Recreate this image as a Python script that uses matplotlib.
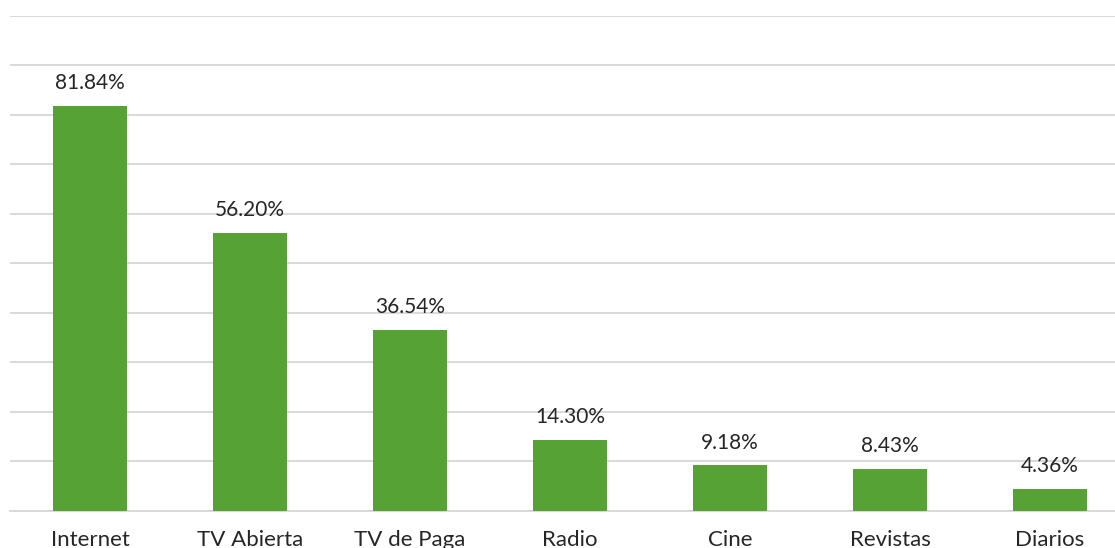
import numpy as np
import matplotlib
matplotlib.use('Agg')
import matplotlib.pyplot as plt

# Media usage shares (percent)
categories = ['Internet', 'TV Abierta', 'TV de Paga', 'Radio', 'Cine', 'Revistas', 'Diarios']
values = [81.84, 56.20, 36.54, 14.30, 9.18, 8.43, 4.36]
labels = ['81.84%', '56.20%', '36.54%', '14.30%', '9.18%', '8.43%', '4.36%']

plt.rcParams['font.family'] = ['Lato', 'DejaVu Sans']

W, H = 1115, 548
fig = plt.figure(figsize=(W/100., H/100.), dpi=100)
# axes run a bit past the right edge of the canvas
ax = fig.add_axes([10./W, (H-510.5)/H, 1120./W, 494.5/H])

x = np.arange(len(categories))
ax.bar(x, values, width=0.4625, color='#56A235', zorder=3)

for xi, v, lab in zip(x, values, labels):
    ax.annotate(lab, (xi, v), xytext=(0, 9), textcoords='offset points',
                ha='center', va='bottom', fontsize=15, color='#262626')

ax.set_xlim(-0.5, 6.5)
ax.set_ylim(0, 100)
ax.set_yticks(np.arange(0, 101, 10))
ax.yaxis.grid(True, color='#D9D9D9', linewidth=1.4, zorder=0)
ax.set_yticklabels([])
ax.tick_params(axis='y', length=0)
ax.set_xticks(x)
ax.set_xticklabels(categories, fontsize=16, color='#262626')
ax.tick_params(axis='x', length=0, pad=14)
for s in ['top', 'right', 'left']:
    ax.spines[s].set_visible(False)
ax.spines['bottom'].set_color('#D9D9D9')
ax.spines['bottom'].set_linewidth(1.4)

plt.savefig('out.png', dpi=100)
